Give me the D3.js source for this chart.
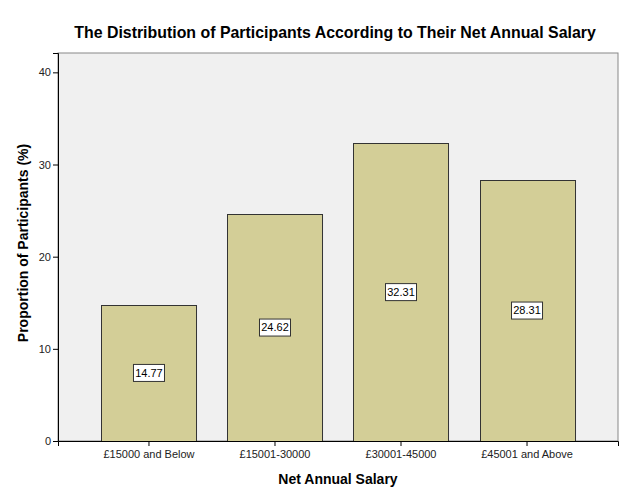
<!DOCTYPE html>
<html>
<head>
<meta charset="utf-8">
<script src="https://cdn.jsdelivr.net/npm/d3@7"></script>
<style>
  body { margin: 0; background: #fff; }
  svg { font-family: "Liberation Sans", Arial, sans-serif; }
</style>
</head>
<body>
<script>
let categories = ["£15000 and Below", "£15001-30000", "£30001-45000", "£45001 and Above"];
let values = [14.77, 24.62, 32.31, 28.31];
let yTicks = [0, 10, 20, 30, 40];

let width = 626, height = 501;
let plotLeft = 58, plotRight = 618, plotTop = 53, plotBottom = 441;

let svg = d3.select("body").append("svg")
    .attr("width", width)
    .attr("height", height);

let x = d3.scaleBand().domain(categories).range([plotLeft, plotRight])
    .paddingInner(0.246).paddingOuter(0.345);
let y = d3.scaleLinear().domain([0, 42.1]).range([plotBottom, plotTop]);

// plot background
svg.append("rect")
    .attr("x", plotLeft).attr("y", plotTop)
    .attr("width", plotRight - plotLeft).attr("height", plotBottom - plotTop)
    .attr("fill", "#f0f0f0")
    .attr("stroke", "#888").attr("stroke-width", 1);

// bars
svg.append("g").selectAll("rect")
    .data(values)
    .join("rect")
    .attr("x", (d, i) => Math.round(x(categories[i])) + 0.5)
    .attr("y", d => Math.round(y(d)) + 0.5)
    .attr("width", x.bandwidth())
    .attr("height", d => Math.round(y(0)) - Math.round(y(d)))
    .attr("fill", "#d3ce97")
    .attr("stroke", "#333").attr("stroke-width", 1);

// axes
let yAxis = svg.append("g")
    .attr("transform", `translate(${plotLeft},0)`)
    .call(d3.axisLeft(y).tickValues(yTicks).tickSize(5).tickPadding(2).tickFormat(d3.format("d")));
let xAxis = svg.append("g")
    .attr("transform", `translate(0,${plotBottom})`)
    .call(d3.axisBottom(x).tickSize(5).tickPadding(4));
[yAxis, xAxis].forEach(a => {
    a.select(".domain").attr("stroke", "#000");
    a.selectAll(".tick line").attr("stroke", "#000");
    a.selectAll(".tick text").attr("font-size", 11)
        .attr("font-family", "Liberation Sans, Arial, sans-serif").attr("fill", "#222");
});

// value labels
let labels = svg.append("g").selectAll("g")
    .data(values)
    .join("g")
    .attr("transform", (d, i) =>
        `translate(${x(categories[i]) + x.bandwidth() / 2},${(y(d) + y(0)) / 2})`);
labels.append("rect")
    .attr("x", -15.5).attr("y", -8.5)
    .attr("width", 31).attr("height", 17)
    .attr("fill", "#fff").attr("stroke", "#333");
labels.append("text")
    .attr("text-anchor", "middle").attr("dy", "0.35em")
    .attr("font-size", 11).attr("fill", "#000")
    .text(d => d.toFixed(2));

// title and axis titles
svg.append("text")
    .attr("x", 335).attr("y", 38)
    .attr("text-anchor", "middle")
    .attr("font-size", 15.9).attr("font-weight", "bold")
    .text("The Distribution of Participants According to Their Net Annual Salary");
svg.append("text")
    .attr("x", (plotLeft + plotRight) / 2).attr("y", 484)
    .attr("text-anchor", "middle")
    .attr("font-size", 14).attr("font-weight", "bold")
    .text("Net Annual Salary");
svg.append("text")
    .attr("transform", "translate(28,243) rotate(-90)")
    .attr("text-anchor", "middle")
    .attr("font-size", 14).attr("font-weight", "bold")
    .text("Proportion of Participants (%)");
</script>
</body>
</html>
